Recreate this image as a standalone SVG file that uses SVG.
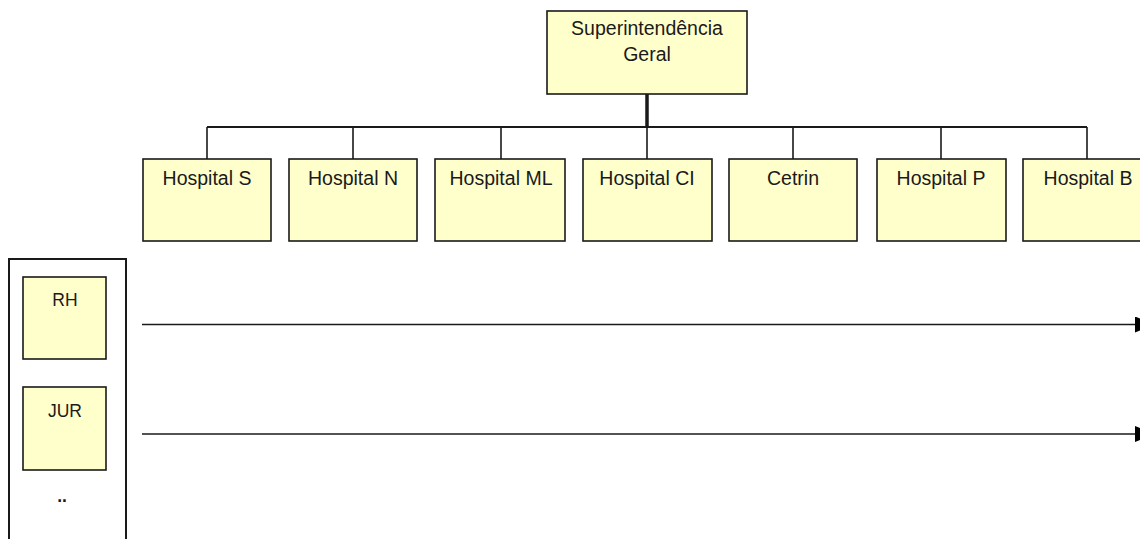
<svg xmlns="http://www.w3.org/2000/svg" width="1140" height="539" viewBox="0 0 1140 539">
<style>
.box{fill:#ffffcc;stroke:#1a1a1a;stroke-width:1.6}
.panel{fill:#ffffff;stroke:#1a1a1a;stroke-width:2}
.t{font-family:"Liberation Sans",Arial,sans-serif;font-size:19.5px;fill:#1a1a1a;text-anchor:middle}
.ts{font-family:"Liberation Sans",Arial,sans-serif;font-size:17.5px;fill:#1a1a1a;text-anchor:middle}
.ln{stroke:#1a1a1a;stroke-width:1.6;fill:none}
</style>
<defs>
<marker id="ah" markerWidth="20" markerHeight="16" refX="20" refY="8" orient="auto" markerUnits="userSpaceOnUse">
<path d="M0,0 L20,8 L0,16 Z" fill="#000"/>
</marker>
</defs>
<rect width="1140" height="539" fill="#ffffff"/>
<g id="connectors">
<line class="ln" x1="647" y1="94" x2="647" y2="127" style="stroke-width:3.5"/>
<line class="ln" x1="207" y1="127" x2="1087" y2="127" style="stroke-width:2"/>
<line class="ln" x1="207" y1="127" x2="207" y2="159"/>
<line class="ln" x1="353" y1="127" x2="353" y2="159"/>
<line class="ln" x1="501" y1="127" x2="501" y2="159"/>
<line class="ln" x1="647" y1="127" x2="647" y2="159"/>
<line class="ln" x1="793" y1="127" x2="793" y2="159"/>
<line class="ln" x1="941" y1="127" x2="941" y2="159"/>
<line class="ln" x1="1087" y1="127" x2="1087" y2="159"/>
<line class="ln" x1="142" y1="324.5" x2="1155" y2="324.5" marker-end="url(#ah)"/>
<line class="ln" x1="142" y1="434" x2="1155" y2="434" marker-end="url(#ah)"/>
</g>
<g id="superintendencia">
<rect class="box" x="547" y="11" width="200" height="83"/>
<text class="t" x="647" y="35">Superintendência</text>
<text class="t" x="647" y="61">Geral</text>
</g>
<g id="hospital-s">
<rect class="box" x="143" y="159" width="128" height="82"/>
<text class="t" x="207" y="185">Hospital S</text>
</g>
<g id="hospital-n">
<rect class="box" x="289" y="159" width="128" height="82"/>
<text class="t" x="353" y="185">Hospital N</text>
</g>
<g id="hospital-ml">
<rect class="box" x="435" y="159" width="130" height="82"/>
<text class="t" x="501" y="185">Hospital ML</text>
</g>
<g id="hospital-ci">
<rect class="box" x="583" y="159" width="129" height="82"/>
<text class="t" x="647" y="185">Hospital CI</text>
</g>
<g id="cetrin">
<rect class="box" x="729" y="159" width="128" height="82"/>
<text class="t" x="793" y="185">Cetrin</text>
</g>
<g id="hospital-p">
<rect class="box" x="877" y="159" width="129" height="82"/>
<text class="t" x="941" y="185">Hospital P</text>
</g>
<g id="hospital-b">
<rect class="box" x="1023" y="159" width="128" height="82"/>
<text class="t" x="1088" y="185">Hospital B</text>
</g>
<g id="panel">
<rect class="panel" x="9" y="259" width="117" height="300"/>
</g>
<g id="rh">
<rect class="box" x="23" y="277" width="83" height="82"/>
<text class="ts" x="65" y="306">RH</text>
</g>
<g id="jur">
<rect class="box" x="23" y="387" width="83" height="83"/>
<text class="ts" x="65" y="417">JUR</text>
</g>
<g id="more">
<text class="ts" x="62" y="502" font-weight="bold">..</text>
</g>
</svg>
